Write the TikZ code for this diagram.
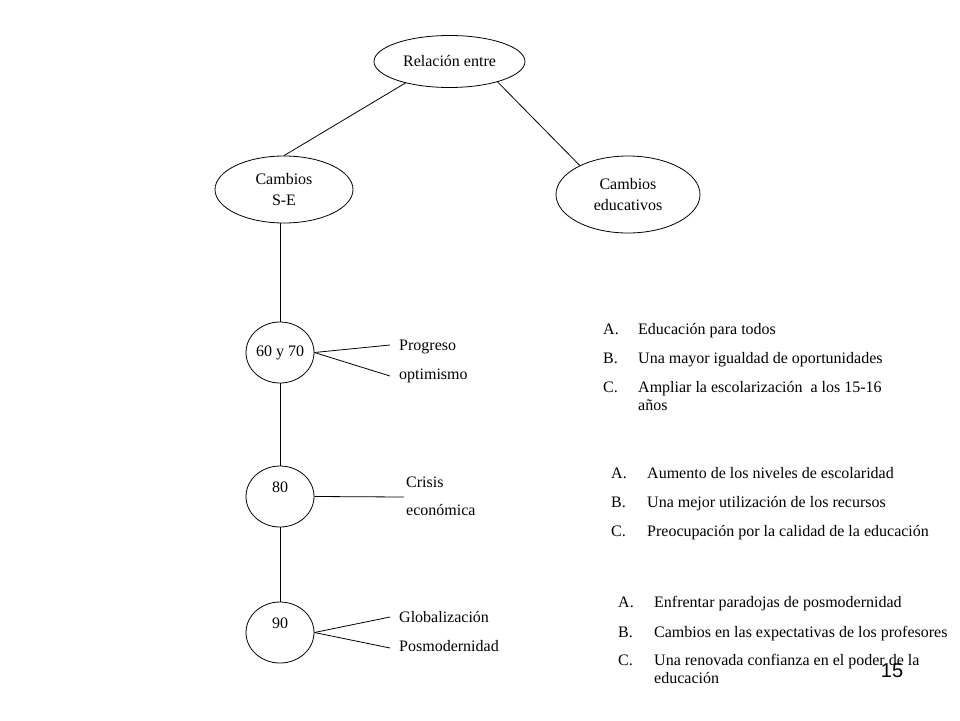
\documentclass[tikz,border=0pt]{standalone}
\usepackage{fontspec}
\setmainfont{Liberation Serif}
\newfontfamily\numfont{Liberation Sans}
\usetikzlibrary{shapes.geometric}
\begin{document}
\begin{tikzpicture}[x=1pt,y=-1pt,
  every node/.style={font=\fontsize{16}{20.5}\selectfont},
  oval/.style={draw, ellipse, inner sep=0pt, align=center, line width=0.8pt},
  lbl/.style={anchor=base west, inner sep=0pt},
  conn/.style={line width=0.8pt}]
\useasboundingbox (0,0) rectangle (960,720);
% main ellipses
\node[oval, minimum width=151pt, minimum height=52pt] (rel) at (449.5,61.5) {Relación entre};
\node[oval, minimum width=138pt, minimum height=67pt] (se) at (284,189.5) {Cambios\\S-E};
\node[oval, minimum width=144pt, minimum height=77pt] (ce) at (628,194.5) {Cambios\\educativos};
% decades
\node[oval, minimum width=68pt, minimum height=61pt] (c1) at (280,352.5) {60 y 70};
\node[oval, minimum width=68pt, minimum height=61pt, label={[yshift=9pt]center:80}] (c2) at (280,496.5) {};
\node[oval, minimum width=68pt, minimum height=61pt, label={[yshift=9pt]center:90}] (c3) at (280,632.5) {};
% connectors
\draw[conn] (rel.206) -- (se.90);
\draw[conn] (rel.-23) -- (ce.149);
\draw[conn] (c1.north) -- (c1.north |- se.south);
\draw[conn] (c2.north) -- (c1.south);
\draw[conn] (c3.north) -- (c2.south);
% side labels
\coordinate (p1) at (390,345);
\coordinate (p2) at (390,376);
\coordinate (p3) at (404,497);
\coordinate (p4) at (390,617);
\coordinate (p5) at (390,648);
\draw[conn] (c1.east) -- (p1);
\draw[conn] (c1.east) -- (p2);
\draw[conn] (c2.east) -- (p3);
\draw[conn] (c3.east) -- (p4);
\draw[conn] (c3.east) -- (p5);
\node[lbl] (t1) at (399,350) {Progreso};
\node[lbl] (t2) at (399,379) {optimismo};
\node[lbl] (t3) at (406,487) {Crisis};
\node[lbl] (t4) at (406,515) {económica};
\node[lbl] (t5) at (399,622) {Globalización};
\node[lbl] (t6) at (399,651) {Posmodernidad};
% list 1
\node[lbl] (a1) at (603,334) {A.};
\node[lbl] (a1t) at (638,334) {Educación para todos};
\node[lbl] (b1) at (603,363) {B.};
\node[lbl] (b1t) at (638,363) {Una mayor igualdad de oportunidades};
\node[lbl] (c1l) at (603,392) {C.};
\node[lbl] (c1t) at (638,392) {Ampliar la escolarización \ a los 15-16};
\node[lbl] (c1u) at (638,410) {años};
% list 2
\node[lbl] (a2) at (611,478) {A.};
\node[lbl] (a2t) at (647,478) {Aumento de los niveles de escolaridad};
\node[lbl] (b2) at (611,507) {B.};
\node[lbl] (b2t) at (647,507) {Una mejor utilización de los recursos};
\node[lbl] (c2l) at (611,536) {C.};
\node[lbl] (c2t) at (647,536) {Preocupación por la calidad de la educación};
% list 3
\node[lbl] (a3) at (618,607) {A.};
\node[lbl] (a3t) at (654,607) {Enfrentar paradojas de posmodernidad};
\node[lbl] (b3) at (618,637) {B.};
\node[lbl] (b3t) at (654,637) {Cambios en las expectativas de los profesores};
\node[lbl] (c3l) at (618,665) {C.};
\node[lbl] (c3t) at (654,665) {Una renovada confianza en el poder de la};
\node[lbl] (c3u) at (654,683) {educación};
% page number
\node[inner sep=0pt, font=\numfont\fontsize{20}{24}\selectfont] (pg) at (892,671) {15};
\end{tikzpicture}
\end{document}
